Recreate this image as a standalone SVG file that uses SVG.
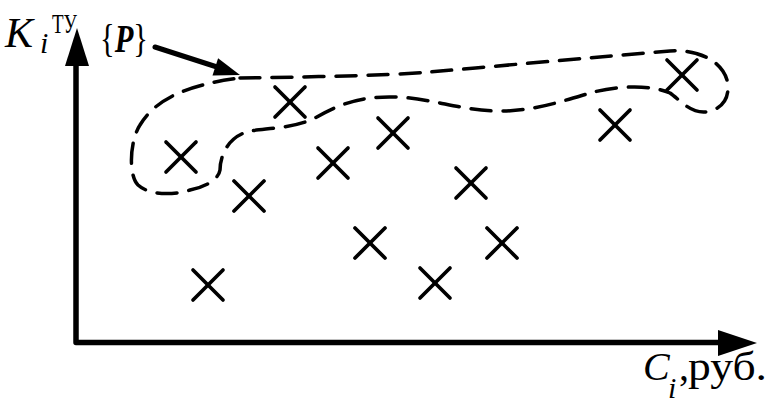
<svg xmlns="http://www.w3.org/2000/svg" width="769" height="403" viewBox="0 0 769 403">
<style>
.ax{fill:none;stroke:#000;stroke-width:5.5;stroke-linejoin:round}
.mk{stroke:#000;stroke-width:3.7;stroke-linecap:round}
.ds{fill:none;stroke:#000;stroke-width:3.5;stroke-dasharray:20 12;stroke-linecap:round}
.t{font-family:"Liberation Serif",serif;fill:#000}
</style>
<defs>
<g id="x"><line class="mk" x1="-15" y1="-15" x2="15" y2="15"/><line class="mk" x1="-15" y1="15" x2="15" y2="-15"/></g>
</defs>
<g id="axes">
<path class="ax" d="M76,64 V342.5 H720"/>
<polygon points="77,28 65,66 89,66"/>
<polygon points="757,343 718,330 718,356"/>
</g>
<g id="points">
<use href="#x" x="290" y="102"/>
<use href="#x" x="181" y="157"/>
<use href="#x" x="249" y="196"/>
<use href="#x" x="333" y="163"/>
<use href="#x" x="393" y="133"/>
<use href="#x" x="471" y="183"/>
<use href="#x" x="370" y="243"/>
<use href="#x" x="502" y="243"/>
<use href="#x" x="435" y="283"/>
<use href="#x" x="208" y="285"/>
<use href="#x" x="615" y="125"/>
<use href="#x" x="682" y="75"/>
</g>
<g id="connectors">
<path class="ds" d="M240,78 C300,77 380,76 430,72 C520,64 620,55 670,51 C700,49 722,62 727,80 C731,98 722,110 705,112 C690,113 680,100 670,93 C650,84 615,86 590,93 C560,102 530,112 495,111 C460,110 430,98 395,97 C360,96 340,104 315,118 C295,128 270,128 250,131 C225,137 220,160 220,170 C218,182 200,188 190,190 C175,195 150,196 138,185 C128,175 130,140 140,125 C155,100 185,85 240,78 Z"/>
<line x1="155" y1="47" x2="217" y2="67" stroke="#000" stroke-width="5" stroke-linecap="round"/>
<polygon points="240,75 212.5,75.4 218.1,58.3"/>
</g>
<g id="labels">
<text class="t" x="5" y="47" font-size="42" font-style="italic">K</text>
<text class="t" x="40" y="53" font-size="30" font-style="italic">i</text>
<text class="t" x="52" y="33" font-size="28" textLength="25" lengthAdjust="spacingAndGlyphs">ТУ</text>
<text class="t" x="100" y="52" font-size="40" textLength="48" lengthAdjust="spacingAndGlyphs">{<tspan font-weight="bold" font-style="italic">P</tspan>}</text>
<text class="t" x="643" y="380" font-size="40" font-style="italic">C</text>
<text class="t" x="668" y="398" font-size="30" font-style="italic">i</text>
<text class="t" x="679" y="380" font-size="40">,</text>
<text class="t" x="688" y="380" font-size="40" textLength="79" lengthAdjust="spacingAndGlyphs">руб.</text>
</g>
</svg>
